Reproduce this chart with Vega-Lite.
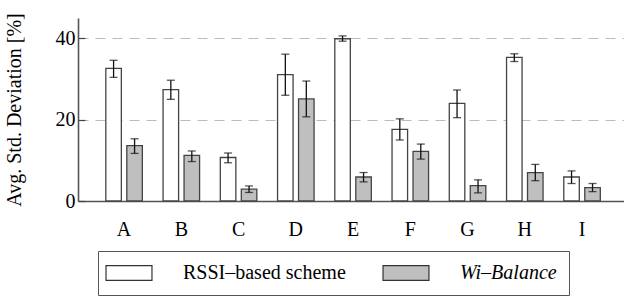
{
  "$schema": "https://vega.github.io/schema/vega-lite/v6.json",
  "autosize": "none",
  "width": 546,
  "height": 183,
  "padding": {"left": 78, "top": 18, "right": 0, "bottom": 96},
  "background": "white",
  "config": {
    "view": {"stroke": null},
    "font": "Liberation Serif",
    "style": {
      "guide-label": {"font": "Liberation Serif", "fill": "#000"},
      "guide-title": {"font": "Liberation Serif", "fill": "#000"}
    },
    "axis": {"labelFont": "Liberation Serif", "titleFont": "Liberation Serif", "labelColor": "#000", "titleColor": "#000", "titleFontWeight": "normal"},
    "legend": {"labelFont": "Liberation Serif", "labelFontSize": 20, "labelColor": "#000"}
  },
  "data": {
    "values": [
      {"cat": "A", "scheme": "RSSI–based scheme", "v": 32.6, "lo": 30.4, "hi": 34.6},
      {"cat": "A", "scheme": "Wi–Balance", "v": 13.6, "lo": 11.7, "hi": 15.3},
      {"cat": "B", "scheme": "RSSI–based scheme", "v": 27.4, "lo": 25.0, "hi": 29.7},
      {"cat": "B", "scheme": "Wi–Balance", "v": 11.2, "lo": 9.7, "hi": 12.3},
      {"cat": "C", "scheme": "RSSI–based scheme", "v": 10.7, "lo": 9.4, "hi": 11.8},
      {"cat": "C", "scheme": "Wi–Balance", "v": 2.9, "lo": 2.1, "hi": 3.7},
      {"cat": "D", "scheme": "RSSI–based scheme", "v": 31.1, "lo": 26.0, "hi": 36.1},
      {"cat": "D", "scheme": "Wi–Balance", "v": 25.1, "lo": 20.7, "hi": 29.5},
      {"cat": "E", "scheme": "RSSI–based scheme", "v": 39.9, "lo": 39.3, "hi": 40.6},
      {"cat": "E", "scheme": "Wi–Balance", "v": 5.9, "lo": 4.7, "hi": 7.0},
      {"cat": "F", "scheme": "RSSI–based scheme", "v": 17.6, "lo": 15.0, "hi": 20.2},
      {"cat": "F", "scheme": "Wi–Balance", "v": 12.2, "lo": 10.3, "hi": 14.0},
      {"cat": "G", "scheme": "RSSI–based scheme", "v": 24.0, "lo": 20.5, "hi": 27.3},
      {"cat": "G", "scheme": "Wi–Balance", "v": 3.8, "lo": 2.0, "hi": 5.2},
      {"cat": "H", "scheme": "RSSI–based scheme", "v": 35.3, "lo": 34.3, "hi": 36.2},
      {"cat": "H", "scheme": "Wi–Balance", "v": 7.0, "lo": 5.0, "hi": 9.0},
      {"cat": "I", "scheme": "RSSI–based scheme", "v": 5.9, "lo": 4.3, "hi": 7.4},
      {"cat": "I", "scheme": "Wi–Balance", "v": 3.3, "lo": 2.3, "hi": 4.3}
    ]
  },
  "encoding": {
    "x": {
      "field": "cat", "type": "nominal",
      "scale": {"paddingInner": 0.362, "paddingOuter": 0.45, "align": 0.54},
      "axis": {"title": null, "labelAngle": 0, "labelFontSize": 20, "ticks": false, "tickSize": 0, "labelPadding": 18, "domainColor": "#555", "domainWidth": 1.6}
    },
    "xOffset": {
      "field": "scheme", "type": "nominal",
      "scale": {"paddingInner": 0.26, "paddingOuter": 0}
    }
  },
  "layer": [
    {
      "mark": {"type": "bar", "stroke": "#444", "strokeWidth": 1.3, "opacity": 1},
      "encoding": {
        "y": {
          "field": "v", "type": "quantitative",
          "scale": {"domain": [0, 45], "nice": false},
          "axis": {
            "title": "Avg. Std. Deviation [%]", "titleFontSize": 20, "titlePadding": 31,
            "values": [0, 20, 40], "labelFontSize": 20, "labelPadding": 10,
            "tickSize": -7, "tickColor": "#444", "tickWidth": 1.2,
            "domainColor": "#555", "domainWidth": 1.6,
            "grid": true, "gridColor": "#bbbbbb", "gridDash": [10, 7], "gridWidth": 1
          }
        },
        "fill": {
          "field": "scheme", "type": "nominal",
          "scale": {"domain": ["RSSI–based scheme", "Wi–Balance"], "range": ["#ffffff", "#bfbfbf"]},
          "legend": {
            "title": null, "orient": "none", "legendX": 20, "legendY": 233,
            "direction": "horizontal", "columns": 2, "columnPadding": 34,
            "strokeColor": "#555", "padding": 12,
            "symbolType": "M-4,-1.3H4V1.3H-4Z", "symbolSize": 132, "symbolOffset": 9,
            "symbolStrokeColor": "#333", "symbolStrokeWidth": 1.2, "symbolOpacity": 1,
            "labelFont": "Liberation Serif", "labelFontSize": 20, "labelColor": "#000", "labelOffset": 44, "labelLimit": 400,
            "labelFontStyle": {"expr": "datum.label == 'Wi–Balance' ? 'italic' : 'normal'"}
          }
        }
      }
    },
    {
      "mark": {"type": "rule", "color": "#111", "strokeWidth": 1.3},
      "encoding": {
        "y": {"field": "lo", "type": "quantitative"},
        "y2": {"field": "hi"}
      }
    },
    {
      "mark": {"type": "tick", "color": "#111", "thickness": 1.3, "size": 8},
      "encoding": {"y": {"field": "lo", "type": "quantitative"}}
    },
    {
      "mark": {"type": "tick", "color": "#111", "thickness": 1.3, "size": 8},
      "encoding": {"y": {"field": "hi", "type": "quantitative"}}
    }
  ]
}
